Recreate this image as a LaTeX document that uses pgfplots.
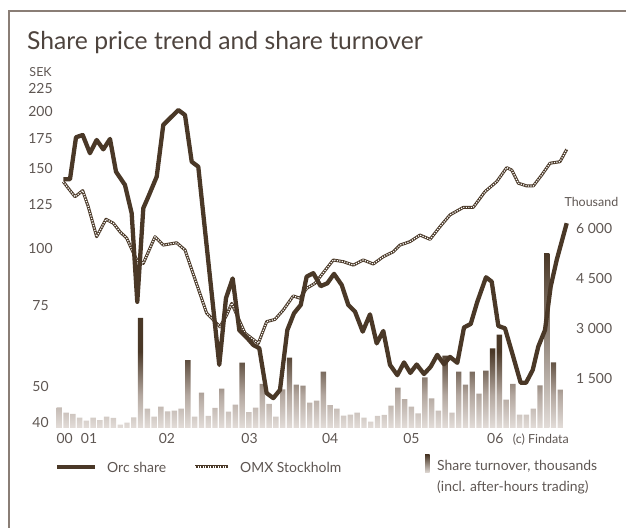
\documentclass[border=0pt]{standalone}
\usepackage{fontspec}
\setmainfont{Lato}
\usepackage{pgfplots}
\usepackage{pgfplotstable}
\pgfplotsset{compat=1.18}
\definecolor{brn}{HTML}{4A3827}
\definecolor{framec}{HTML}{8A7E76}
\definecolor{titlec}{HTML}{4E443E}
\definecolor{tickc}{HTML}{5E5652}
\definecolor{barlight}{HTML}{E3DDD9}
\definecolor{barmid}{HTML}{B3A79F}
\definecolor{bardark}{HTML}{4A3827}
\pgfdeclareverticalshading{barshade}{100bp}{color(0bp)=(barlight); color(25bp)=(barlight); color(34.5bp)=(barmid); color(47bp)=(bardark); color(100bp)=(bardark)}

\pgfplotstableread{
x v
1 624
2 461
3 422
4 311
5 220
6 311
7 241
8 341
9 302
10 100
11 160
12 323
13 3317
14 582
15 341
16 642
17 503
18 522
19 582
20 2050
21 341
22 1064
23 362
24 603
25 1185
26 492
27 704
28 1970
29 482
30 613
31 1327
32 724
33 342
34 1166
35 2121
36 1307
37 1277
38 764
39 824
40 1699
41 693
42 583
43 372
44 402
45 462
46 312
47 191
48 362
49 392
50 673
51 1216
52 874
53 643
54 442
55 1528
56 894
57 523
58 2181
59 462
60 1699
61 1307
62 1699
63 1035
64 1729
65 2402
66 2814
67 854
68 1327
69 402
70 402
71 583
72 1287
73 5246
74 1980
75 1156
}\turnover

\pgfplotstableread{
x p
1.59 142.2
2.58 142.2
3.47 175.8
4.46 177.8
5.53 162.2
6.52 173.4
7.50 165.4
8.49 174.3
9.38 147.7
10.70 138.2
11.69 119.8
12.52 76.6
13.41 122.9
14.15 130.2
15.39 144.1
16.36 187.1
18.58 201.7
19.57 196.7
20.56 155.4
21.53 151.5
24.63 55.7
25.62 78.0
26.61 86.2
27.59 66.4
28.68 64.0
29.66 61.6
30.54 60.6
31.63 48.3
32.61 47.1
33.60 49.1
34.68 66.4
35.67 72.3
36.66 75.4
37.54 87.0
38.52 88.5
39.61 82.9
40.59 84.1
41.58 88.2
42.71 83.4
43.69 75.4
44.68 72.9
45.82 65.9
46.89 71.9
47.88 62.1
48.86 66.1
49.85 55.7
50.93 52.9
51.92 56.4
52.85 53.5
53.79 55.8
54.87 53.2
55.86 55.2
56.83 58.6
57.82 55.9
58.71 58.0
59.79 56.3
60.78 67.3
61.77 68.5
62.74 76.6
64.03 86.7
64.87 84.8
65.85 67.8
66.83 67.0
68.06 58.0
69.15 50.9
69.94 50.9
70.93 54.3
71.75 61.1
72.74 66.4
73.58 82.7
74.47 94.6
75.95 113.9
}\orc

\pgfplotstableread{
x p
1.59 140.5
2.33 135.9
3.32 130.2
4.46 134.3
5.28 123.8
6.52 106.4
7.90 116.2
8.98 113.9
9.97 109.1
10.96 105.6
12.43 94.6
13.41 93.0
15.14 106.4
16.36 102.0
18.34 103.2
19.57 99.5
22.77 72.3
23.75 69.9
24.74 67.5
25.73 71.7
26.47 76.0
28.43 65.4
30.40 62.1
31.63 69.3
32.86 70.1
34.09 73.5
35.56 78.9
36.55 78.0
37.54 82.0
38.77 84.1
40.50 90.7
41.47 94.6
42.95 93.8
44.43 92.2
45.90 94.6
47.38 92.7
48.86 96.2
50.34 98.6
51.33 102.0
52.80 103.8
54.28 107.3
55.76 105.0
57.23 111.9
58.71 118.8
60.68 123.4
62.15 123.4
63.88 133.6
65.61 140.5
67.09 150.8
67.83 149.0
68.80 139.4
70.04 137.5
71.02 137.5
72.26 145.3
73.48 154.2
74.96 155.4
75.95 165.4
}\omx

\begin{document}
\begin{tikzpicture}[x=1bp,y=1bp]
\useasboundingbox (0,0) rectangle (626,528);
\draw[framec, line width=1.3bp] (9,0) -- (9,517) -- (626,517);
\node[anchor=base west, text=titlec, inner sep=0pt, font=\fontsize{24.8}{28}\selectfont] at (27,478) {Share price trend and share turnover};
\node[anchor=base west, text=tickc, inner sep=0pt, font=\fontsize{12.5}{14}\selectfont] at (29.3,451.3) {SEK};
\node[anchor=base west, text=tickc, inner sep=0pt, font=\fontsize{12.5}{14}\selectfont] at (564.3,321) {Thousand};

\begin{axis}[
  at={(55.9bp,100bp)}, anchor=south west, scale only axis,
  width=512.5bp, height=339.6bp,
  xmin=0.5, xmax=76.2, ymin=0, ymax=10239,
  axis x line*=bottom, axis y line*=right,
  axis line style={draw=none}, tick style={draw=none},
  scaled y ticks=false,
  xtick={1.8,5.4,16.9,29.1,41,53,65.4},
  xticklabels={00,01,02,03,04,05,06},
  xticklabel style={anchor=center, yshift=-11bp, inner sep=0pt, font=\fontsize{14}{16}\selectfont, text=tickc},
  ytick={1500,3000,4500,6000},
  yticklabels={1 500,3 000,4 500,6 000},
  yticklabel style={anchor=west, xshift=7.6bp, inner sep=0pt, font=\fontsize{14}{16}\selectfont, text=tickc},
  clip=false,
]
\addplot[ybar, bar width=5.4bp, bar shift=0pt, draw=none, shade, shading=barshade] table[x=x,y=v] {\turnover};
\addplot[ybar, bar width=5.4bp, bar shift=0pt, draw=none, top color=bardark, bottom color=barlight] coordinates {(73,5246)};
\end{axis}

\begin{axis}[
  at={(55.9bp,97.5bp)}, anchor=south west, scale only axis,
  width=512.5bp, height=342.1bp,
  xmin=0.5, xmax=76.2, ymode=log, ymin=40, ymax=225,
  axis x line=none, axis y line*=left,
  axis line style={draw=none}, tick style={draw=none},
  ytick={50,75,100,125,150,175,200,225},
  yticklabels={50,75,100,125,150,175,200,225},
  extra y ticks={40}, extra y tick labels={40},
  extra y tick style={yticklabel style={yshift=7.5bp}},
  yticklabel style={anchor=center, xshift=-15.4bp, inner sep=0pt, font=\fontsize{14}{16}\selectfont, text=tickc},
  clip=false,
]
\addplot[brn, line width=3bp, line join=round] table[x=x,y=p] {\omx};
\addplot[white, line width=1.2bp, dash pattern=on 1.2bp off 1.3bp] table[x=x,y=p] {\omx};
\addplot[brn, line width=4.3bp, line join=round] table[x=x,y=p] {\orc};
\end{axis}

\node[anchor=center, text=tickc, inner sep=0pt, font=\fontsize{12.5}{14}\selectfont] at (540.8,88.7) {(c) Findata};

% legend
\draw[brn, line width=4.3bp] (57,61) -- (95,61);
\node[anchor=west, text=tickc, inner sep=0pt, font=\fontsize{14}{16}\selectfont] at (107,61) {Orc share};
\draw[brn, line width=3bp] (195,61) -- (228,61);
\draw[white, line width=1.2bp, dash pattern=on 1.2bp off 1.3bp] (195,61) -- (228,61);
\node[anchor=west, text=tickc, inner sep=0pt, font=\fontsize{14}{16}\selectfont] at (240,61) {OMX Stockholm};
\shade[top color=bardark, bottom color=barlight] (425,55) rectangle (429.5,73);
\node[anchor=west, text=tickc, inner sep=0pt, font=\fontsize{14}{16}\selectfont] at (437,62) {Share turnover, thousands};
\node[anchor=west, text=tickc, inner sep=0pt, font=\fontsize{14}{16}\selectfont] at (437,41) {(incl. after-hours trading)};
\end{tikzpicture}
\end{document}
